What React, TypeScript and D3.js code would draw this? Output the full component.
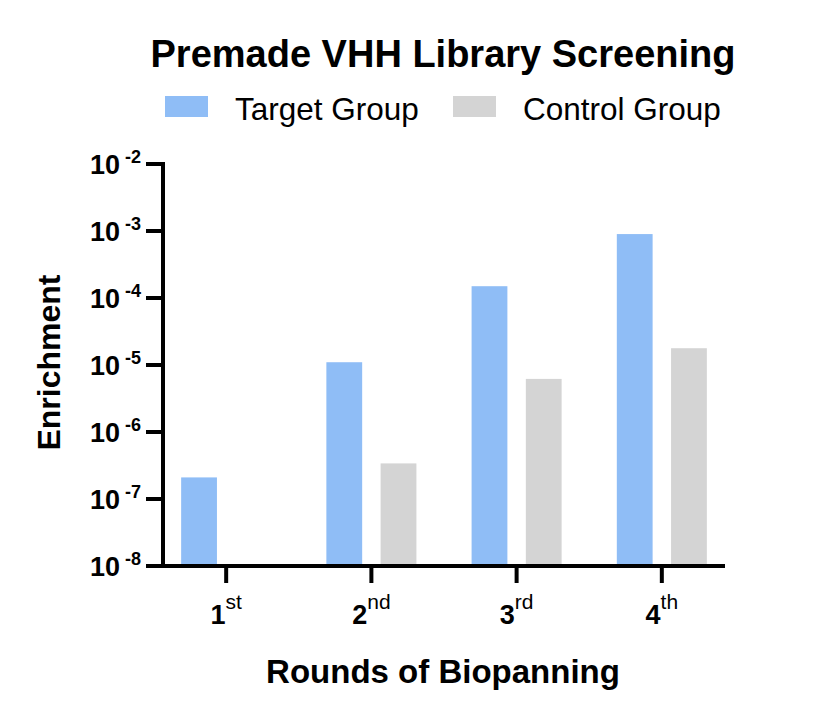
import * as d3 from "d3";

const rounds = ["1", "2", "3", "4"];
const roundSuffix = ["st", "nd", "rd", "th"];
const groups = ["Target Group", "Control Group"];
const targetValues = [2.1e-7, 1.1e-5, 1.5e-4, 9.0e-4];
const controlValues: (number | null)[] = [null, 3.4e-7, 6.2e-6, 1.78e-5];
const yTickExponents = [-2, -3, -4, -5, -6, -7, -8];
const colors = ["#8fbdf6", "#d4d4d4"];

const FONT = "'Liberation Sans', Arial, Helvetica, sans-serif";

const width = 820;
const height = 718;
const margin = { top: 164, right: 95, bottom: 152, left: 163 };
const AXIS_W = 4;

const App = () => {
  const x0 = d3
    .scaleBand<string>()
    .domain(rounds)
    .range([margin.left, width - margin.right])
    .paddingInner(0.38)
    .paddingOuter(0.125);

  const x1 = d3
    .scaleBand<string>()
    .domain(groups)
    .range([0, x0.bandwidth()])
    .paddingInner(0.34);

  const y = d3
    .scaleLog()
    .domain([1e-8, 1e-2])
    .range([height - margin.bottom, margin.top]);

  const series = [targetValues, controlValues];
  const baseY = y(1e-8);

  return (
    <svg
      width={width}
      height={height}
      style={{ position: "absolute", left: 0, top: 0, background: "#fff" }}
      fontFamily={FONT}
    >
      {/* title */}
      <text x={443} y={67} textAnchor="middle" fontSize={38} fontWeight="bold">
        Premade VHH Library Screening
      </text>

      {/* legend */}
      {groups.map((g, i) => {
        const lx = i === 0 ? 165 : 453;
        return (
          <g key={g}>
            <rect x={lx} y={96} width={43} height={21} fill={colors[i]} />
            <text x={lx + 70} y={120} fontSize={31.5}>
              {g}
            </text>
          </g>
        );
      })}

      {/* bars */}
      {rounds.map((r, ri) => (
        <g key={r} transform={`translate(${x0(r)},0)`}>
          {series.map((vals, si) => {
            const v = vals[ri];
            if (v == null) return null;
            return (
              <rect
                key={si}
                x={x1(groups[si])}
                y={y(v)}
                width={x1.bandwidth()}
                height={baseY - y(v)}
                fill={colors[si]}
              />
            );
          })}
        </g>
      ))}

      {/* y axis */}
      <line
        x1={margin.left}
        x2={margin.left}
        y1={y(1e-2) - AXIS_W / 2}
        y2={baseY + AXIS_W / 2}
        stroke="#000"
        strokeWidth={AXIS_W}
      />
      {yTickExponents.map((e) => {
        const ty = y(Math.pow(10, e));
        return (
          <g key={e}>
            <line
              x1={margin.left - 17}
              x2={margin.left}
              y1={ty}
              y2={ty}
              stroke="#000"
              strokeWidth={AXIS_W}
            />
            <text
              x={margin.left - 22}
              y={ty + 10}
              textAnchor="end"
              fontWeight="bold"
              fontSize={27}
            >
              <tspan>10</tspan>
              <tspan dx={5} dy={-11} fontSize={18}>
                {String(e)}
              </tspan>
            </text>
          </g>
        );
      })}

      {/* x axis */}
      <line
        x1={margin.left - AXIS_W / 2}
        x2={width - margin.right}
        y1={baseY}
        y2={baseY}
        stroke="#000"
        strokeWidth={AXIS_W}
      />
      {rounds.map((r, i) => {
        const cx = (x0(r) as number) + x0.bandwidth() / 2;
        return (
          <g key={r}>
            <line
              x1={cx}
              x2={cx}
              y1={baseY}
              y2={baseY + 17}
              stroke="#000"
              strokeWidth={AXIS_W}
            />
            <text x={cx} y={624} textAnchor="middle" fontSize={27}>
              <tspan fontWeight="bold">{r}</tspan>
              <tspan dy={-15} fontSize={21}>
                {roundSuffix[i]}
              </tspan>
            </text>
          </g>
        );
      })}

      {/* axis titles */}
      <text
        x={443}
        y={683}
        textAnchor="middle"
        fontSize={33}
        fontWeight="bold"
      >
        Rounds of Biopanning
      </text>
      <text
        transform={`translate(60,${(272 + 453) / 2}) rotate(-90)`}
        textAnchor="middle"
        fontSize={32}
        fontWeight="bold"
      >
        Enrichment
      </text>
    </svg>
  );
};

export default App;
